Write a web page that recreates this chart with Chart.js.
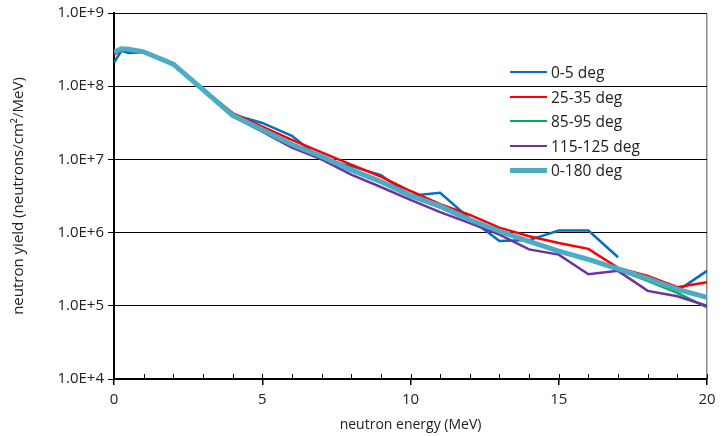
<!DOCTYPE html>
<html>
<head>
<meta charset="utf-8">
<script src="https://cdn.jsdelivr.net/npm/chart.js@4"></script>
<style>
  body { margin: 0; background: #fff; }
  #wrap { position: relative; width: 728px; height: 436px; }
  #legend { position: absolute; left: 510px; top: 60px; font-family: "Open Sans", sans-serif; font-size: 15.5px; color: #222; }
  #legend div { height: 24.5px; line-height: 24px; display: flex; align-items: center; }
  #legend span.ln { display: inline-block; width: 37px; margin-right: 4px; }
</style>
</head>
<body>
<div id="wrap">
  <canvas id="spectre"></canvas>
  <div id="legend"></div>
</div>
<script>
// energies (MeV)
const energie = [0, 0.25, 0.5, 1, 2, 3, 4, 5, 6, 7, 8, 9, 10, 11, 12, 13, 14, 15, 16, 17, 18, 19, 20];

// rendements par angle (neutrons/cm2/MeV)
const deg0_5 = [2.1e8, 3.05e8, 2.85e8, 2.9e8, 2.0e8, 9.0e7, 4.1e7, 3.15e7, 2.1e7, 1.0e7, 8.1e6, 6.1e6, 3.2e6, 3.5e6, 1.55e6, 7.7e5, 7.9e5, 1.07e6, 1.07e6, 4.6e5, null, 1.6e5, 3.0e5];
const deg25_35 = [2.7e8, 3.1e8, 3.1e8, 2.95e8, 2.0e8, 9.2e7, 4.3e7, 2.8e7, 1.85e7, 1.25e7, 8.5e6, 5.8e6, 3.7e6, 2.45e6, 1.75e6, 1.17e6, 8.9e5, 7.2e5, 6.0e5, 3.3e5, 2.55e5, 1.8e5, 2.1e5];
const deg85_95 = [2.85e8, 3.2e8, 3.15e8, 2.9e8, 2.0e8, 8.9e7, 3.9e7, 2.5e7, 1.55e7, 1.05e7, 7.0e6, 4.8e6, 3.1e6, 2.2e6, 1.45e6, 1.02e6, 7.4e5, 5.5e5, 4.2e5, 3.1e5, 2.2e5, 1.5e5, 9.5e4];
const deg115_125 = [2.8e8, 3.15e8, 3.1e8, 2.9e8, 1.95e8, 8.8e7, 3.9e7, 2.4e7, 1.45e7, 1.0e7, 6.2e6, 4.2e6, 2.8e6, 1.9e6, 1.35e6, 9.4e5, 5.9e5, 5.0e5, 2.7e5, 3.0e5, 1.6e5, 1.35e5, 1.0e5];
const deg0_180 = [2.9e8, 3.25e8, 3.2e8, 2.95e8, 2.0e8, 9.0e7, 4.0e7, 2.55e7, 1.6e7, 1.1e7, 7.2e6, 5.0e6, 3.2e6, 2.3e6, 1.5e6, 1.05e6, 7.6e5, 5.6e5, 4.3e5, 3.2e5, 2.35e5, 1.68e5, 1.3e5];

const nomsSeries = ['0-5 deg', '25-35 deg', '85-95 deg', '115-125 deg', '0-180 deg'];
const couleurs = ['#0070C0', '#FF0000', '#00B050', '#7030A0', '#4BACC6'];
const yTicks = [1e4, 1e5, 1e6, 1e7, 1e8, 1e9];
const xTicks = [0, 5, 10, 15, 20];

const series = [deg0_5, deg25_35, deg85_95, deg115_125, deg0_180];

const datasets = series.map((vals, i) => ({
    label: nomsSeries[i],
    data: energie.map((e, j) => ({ x: e, y: vals[j] })),
    borderColor: couleurs[i],
    backgroundColor: couleurs[i],
    borderWidth: i === 4 ? 5 : 2.5,
    pointRadius: 0,
    tension: 0,
    spanGaps: false,
    order: 5 - i // la derniere serie dessinee au-dessus
}));

// petites graduations a chaque MeV, vers l'interieur
const petitesGraduations = {
    id: 'petitesGraduations',
    afterDraw(chart) {
        const x = chart.scales.x;
        const ctx = chart.ctx;
        const bas = chart.chartArea.bottom;
        ctx.save();
        ctx.strokeStyle = '#000';
        ctx.lineWidth = 1;
        for (let e = 0; e <= 20; e++) {
            const px = Math.round(x.getPixelForValue(e)) + 0.5;
            ctx.beginPath();
            ctx.moveTo(px, bas);
            ctx.lineTo(px, bas - 5);
            ctx.stroke();
        }
        ctx.restore();
    }
};

const ctx = document.getElementById('spectre').getContext('2d');
new Chart(ctx, {
    type: 'line',
    data: { datasets: datasets },
    options: {
        responsive: true,
        maintainAspectRatio: false,
        animation: false,
        layout: { padding: { top: 13, right: 21, left: 0, bottom: 0 } },
        plugins: {
            legend: { display: false },
            tooltip: { enabled: false }
        },
        scales: {
            x: {
                type: 'linear',
                min: 0,
                max: 20,
                afterBuildTicks: scale => { scale.ticks = xTicks.map(v => ({ value: v })); },
                afterFit: scale => { scale.height = 57; },
                ticks: { color: '#222', font: { family: 'Open Sans', size: 15 }, padding: 6, maxRotation: 0 },
                grid: {
                    drawOnChartArea: true,
                    color: c => (c.tick && c.tick.value === 20 ? '#8c8c8c' : 'rgba(0,0,0,0)'),
                    tickColor: '#000',
                    tickLength: 6,
                    lineWidth: 1.5
                },
                border: { color: '#000', width: 2 },
                title: {
                    display: true,
                    text: 'neutron energy (MeV)',
                    color: '#222',
                    font: { family: 'Open Sans', size: 14 },
                    padding: { top: 2, bottom: 3 }
                }
            },
            y: {
                type: 'logarithmic',
                min: 1e4,
                max: 1e9,
                afterBuildTicks: scale => { scale.ticks = yTicks.map(v => ({ value: v })); },
                afterFit: scale => { scale.width = 114; },
                ticks: {
                    color: '#222',
                    font: { family: 'Open Sans', size: 15 },
                    padding: 4,
                    callback: v => '1.0E+' + Math.round(Math.log10(v))
                },
                grid: { color: '#000', lineWidth: 1, tickLength: 6, tickColor: '#000' },
                border: { color: '#000', width: 2 },
                title: {
                    display: true,
                    text: 'neutron yield (neutrons/cm\u00b2/MeV)',
                    color: '#222',
                    font: { family: 'Open Sans', size: 15 },
                    padding: { top: 10, bottom: 0 }
                }
            }
        }
    },
    plugins: [petitesGraduations]
});

// legende HTML dans la zone du graphique
const legende = document.getElementById('legend');
nomsSeries.forEach((nom, i) => {
    const ligne = document.createElement('div');
    const trait = document.createElement('span');
    trait.className = 'ln';
    trait.style.borderTop = (i === 4 ? 5 : 2.5) + 'px solid ' + couleurs[i];
    ligne.appendChild(trait);
    ligne.appendChild(document.createTextNode(nom));
    legende.appendChild(ligne);
});
</script>
</body>
</html>
